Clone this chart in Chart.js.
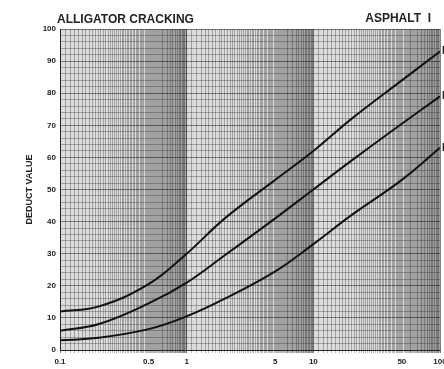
<!DOCTYPE html>
<html>
<head>
<meta charset="utf-8">
<script src="https://cdn.jsdelivr.net/npm/chart.js@4/dist/chart.umd.min.js"></script>
<style>
  html, body { margin: 0; padding: 0; background: #fff; }
  #wrap { width: 444px; height: 369px; }
</style>
</head>
<body>
<div id="wrap"><canvas id="chart"></canvas></div>
<script>
// Distress density (%)
const density = [0.1, 0.2, 0.5, 1, 2, 5, 10, 20, 50, 100];
// Deduct values for each severity curve
const highSev = [12, 13.5, 20.5, 30, 41, 53, 62, 72, 84, 93];
const medSev = [6, 8, 14.5, 21, 29.5, 41, 50, 59, 70.5, 79];
const lowSev = [3, 3.8, 6.5, 10.5, 16, 24.5, 33, 42, 53, 63];
const curveNames = ['H', 'M', 'L'];
const xLabels = [0.1, 0.5, 1, 5, 10, 50, 100];
const yTicks = [0, 10, 20, 30, 40, 50, 60, 70, 80, 90, 100];

// log paper style grid: 1.0, 1.1, ... 9.9 in each decade
function logGridValues() {
    const vals = [];
    for (let d = 0.1; d < 100; d *= 10) {
        for (let k = 10; k < 100; k++) {
            vals.push(+(d * k / 10).toPrecision(3));
        }
    }
    vals.push(100);
    return vals;
}

function toPoints(ys) {
    return density.map((x, i) => ({ x: x, y: ys[i] }));
}

// Headings, paper tint and curve letters
const textPlugin = {
    id: 'textPlugin',
    beforeDraw(chart) {
        const a = chart.chartArea;
        const c = chart.ctx;
        c.save();
        c.fillStyle = '#dcdcdc';
        c.fillRect(a.left, a.top, a.right - a.left, a.bottom - a.top);
        c.restore();
    },
    afterDraw(chart) {
        const c = chart.ctx;
        const xs = chart.scales.x;
        const ys = chart.scales.y;
        c.save();
        c.fillStyle = '#222';
        c.font = 'bold 12px "Liberation Sans", Arial, sans-serif';
        c.textBaseline = 'alphabetic';
        c.textAlign = 'left';
        c.fillText('ALLIGATOR CRACKING', 57, 23);
        c.textAlign = 'right';
        c.fillText('ASPHALT  I', 431, 22);
        c.font = 'bold 10px "Liberation Sans", Arial, sans-serif';
        c.textAlign = 'left';
        c.textBaseline = 'middle';
        [highSev, medSev, lowSev].forEach((s, i) => {
            c.fillText(curveNames[i], xs.getPixelForValue(100) + 2, ys.getPixelForValue(s[s.length - 1]));
        });
        c.restore();
    }
};

const ctx = document.getElementById('chart').getContext('2d');
const chart = new Chart(ctx, {
    type: 'line',
    data: {
        datasets: [highSev, medSev, lowSev].map((s, i) => ({
            label: curveNames[i],
            data: toPoints(s),
            borderColor: '#111',
            borderWidth: 2,
            pointRadius: 0,
            fill: false,
            tension: 0.4
        }))
    },
    options: {
        responsive: true,
        maintainAspectRatio: false,
        animation: false,
        layout: { padding: { left: 22, right: 4, top: 29, bottom: 0 } },
        plugins: {
            legend: { display: false },
            tooltip: { enabled: false }
        },
        scales: {
            x: {
                type: 'logarithmic',
                min: 0.1,
                max: 100,
                afterBuildTicks: (scale) => {
                    scale.ticks = logGridValues().map(v => ({ value: v }));
                },
                afterFit: (scale) => {
                    scale.height = 19;
                    scale.paddingLeft = 0;
                    scale.paddingRight = 0;
                },
                ticks: {
                    autoSkip: false,
                    maxRotation: 0,
                    padding: 4,
                    color: '#222',
                    font: { family: '"Liberation Sans", Arial, sans-serif', size: 8, weight: 'bold' },
                    callback: function (value) {
                        const v = +(+value).toPrecision(3);
                        return xLabels.includes(v) ? String(v) : '';
                    }
                },
                grid: {
                    color: (c) => {
                        const v = c.tick ? +(+c.tick.value).toPrecision(3) : 0;
                        return [0.1, 1, 10, 100].includes(v) ? 'rgba(20,20,20,0.9)' : 'rgba(40,40,40,0.55)';
                    },
                    lineWidth: 0.6,
                    tickLength: 3
                },
                border: { color: '#222', width: 1 }
            },
            y: {
                min: 0,
                max: 100,
                afterBuildTicks: (scale) => {
                    const t = [];
                    for (let v = 0; v <= 100; v += 2) t.push({ value: v });
                    scale.ticks = t;
                },
                afterFit: (scale) => { scale.width = 38; },
                ticks: {
                    autoSkip: false,
                    padding: 4,
                    color: '#222',
                    font: { family: '"Liberation Sans", Arial, sans-serif', size: 8, weight: 'bold' },
                    callback: (value) => yTicks.includes(value) ? String(value) : ''
                },
                title: {
                    display: true,
                    text: 'DEDUCT VALUE',
                    color: '#222',
                    padding: 2,
                    font: { family: '"Liberation Sans", Arial, sans-serif', size: 9, weight: 'bold' }
                },
                grid: {
                    color: (c) => (c.tick && c.tick.value % 10 === 0) ? 'rgba(20,20,20,0.85)' : 'rgba(40,40,40,0.55)',
                    lineWidth: 0.6,
                    drawTicks: false
                },
                border: { color: '#222', width: 1 }
            }
        }
    },
    plugins: [textPlugin]
});
</script>
</body>
</html>
